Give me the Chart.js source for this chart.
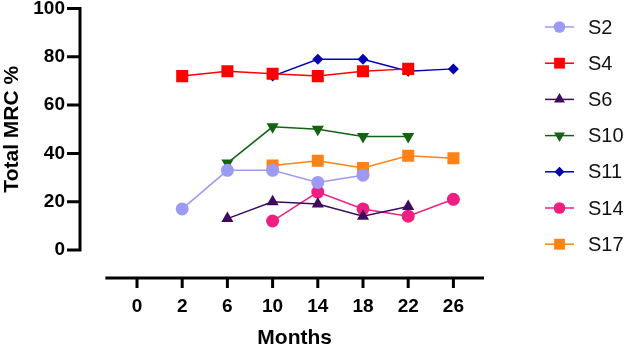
<!DOCTYPE html>
<html>
<head>
<meta charset="utf-8">
<script src="https://cdn.jsdelivr.net/npm/chart.js@4/dist/chart.umd.min.js"></script>
<style>
  html, body { margin: 0; padding: 0; background: #fff; }
  #wrap { width: 629px; height: 346px; }
</style>
</head>
<body>
<div id="wrap"><canvas id="myChart" width="629" height="346"></canvas></div>
<script>
// months on the x axis (evenly spaced categories)
const months = ['0', '2', '6', '10', '14', '18', '22', '26'];
const yTicks = [0, 20, 40, 60, 80, 100];

// Total MRC % per subject, null = no measurement
const s2  = [null, 17, 33, 33, 28, 31, null, null];
const s4  = [null, 72, 74, 73, 72, 74, 75, null];
const s6  = [null, null, 13, 20, 19, 14, 18, null];
const s10 = [null, null, 36, 51, 50, 47, 47, null];
const s11 = [null, null, null, 72, 79, 79, 74, 75];
const s14 = [null, null, null, 12, 24, 17, 14, 21];
const s17 = [null, null, null, 35, 37, 34, 39, 38];

const FONT = '"Liberation Sans", Arial, sans-serif';

function pts(arr) {
    return arr.map(function(v, i) { return v === null ? null : {x: i, y: v}; })
              .filter(function(p) { return p !== null; });
}

function series(label, arr, color, style, r, rot) {
    return {
        label: label,
        data: pts(arr),
        borderColor: color,
        backgroundColor: color,
        borderWidth: 1.5,
        pointStyle: style,
        pointRadius: r,
        pointRotation: rot || 0,
        pointBorderWidth: 0,
        pointBackgroundColor: color,
        pointBorderColor: color
    };
}

const datasets = [
    series('S2',  s2,  '#9b9bf3', 'circle',   6.5),
    series('S4',  s4,  '#ff0000', 'rect',     8.5),
    series('S6',  s6,  '#3e0b5e', 'triangle', 7),
    series('S10', s10, '#136313', 'triangle', 7, 180),
    series('S11', s11, '#0000b0', 'rectRot',  5.5),
    series('S14', s14, '#ee1f80', 'circle',   6.5),
    series('S17', s17, '#ff8216', 'rect',     8.5)
];

// axes drawn detached like the original, plus the legend on the right
const customAxes = {
    id: 'customAxes',
    afterDraw(chart) {
        const ctx = chart.ctx;
        const xs = chart.scales.x, ys = chart.scales.y;
        const left = chart.chartArea.left;
        const xStart = xs.getPixelForValue(-0.70);
        ctx.save();
        ctx.strokeStyle = '#000';
        ctx.lineWidth = 3;
        ctx.lineCap = 'butt';
        // y axis
        ctx.beginPath();
        ctx.moveTo(left, ys.getPixelForValue(100) - 1.5);
        ctx.lineTo(left, ys.getPixelForValue(0) + 1.5);
        yTicks.forEach(function(t) {
            const py = ys.getPixelForValue(t);
            ctx.moveTo(left - 13, py);
            ctx.lineTo(left, py);
        });
        ctx.stroke();
        // x axis
        const axY = ys.getPixelForValue(0) + 28;
        ctx.beginPath();
        ctx.moveTo(xStart, axY);
        ctx.lineTo(chart.chartArea.right, axY);
        months.forEach(function(m, i) {
            const px = xs.getPixelForValue(i);
            ctx.moveTo(px, axY);
            ctx.lineTo(px, axY + 10);
        });
        ctx.stroke();
        // x title
        ctx.fillStyle = '#000';
        ctx.font = 'bold 21px ' + FONT;
        ctx.textAlign = 'center';
        ctx.textBaseline = 'alphabetic';
        ctx.fillText('Months', (xStart + chart.chartArea.right) / 2, 344);

        // legend
        ctx.font = '20px ' + FONT;
        ctx.textAlign = 'left';
        ctx.textBaseline = 'middle';
        datasets.forEach(function(ds, i) {
            const cy = 27 + i * 36.2;
            ctx.strokeStyle = ds.borderColor;
            ctx.lineWidth = 1.5;
            ctx.beginPath();
            ctx.moveTo(545, cy);
            ctx.lineTo(574, cy);
            ctx.stroke();
            ctx.fillStyle = ds.backgroundColor;
            Chart.helpers.drawPoint(ctx, {
                pointStyle: ds.pointStyle,
                rotation: ds.pointRotation,
                radius: ds.pointRadius * 0.9,
                borderWidth: 0
            }, 559.5, cy);
            ctx.fillStyle = '#111';
            ctx.fillText(ds.label, 588, cy + 1);
        });
        ctx.restore();
    }
};

const config = {
    type: 'line',
    data: { datasets: datasets },
    options: {
        responsive: false,
        animation: false,
        layout: { padding: { top: 8, right: 145, left: 0, bottom: 0 } },
        plugins: { legend: { display: false }, tooltip: { enabled: false } },
        scales: {
            x: {
                type: 'linear',
                min: -1.261,
                max: 7.677,
                afterFit: function(s) {
                    s.height = 96;
                    s.paddingLeft = 0;
                    s.paddingRight = 0;
                },
                afterBuildTicks: function(s) {
                    s.ticks = months.map(function(m, i) { return {value: i}; });
                },
                grid: { display: false, drawTicks: false },
                border: { display: false },
                ticks: {
                    padding: 45,
                    autoSkip: false,
                    maxRotation: 0,
                    color: '#000',
                    font: { family: FONT, size: 19, weight: 'bold' },
                    callback: function(v) { return months[v]; }
                }
            },
            y: {
                min: 0,
                max: 100,
                afterFit: function(s) {
                    s.width = 80;
                    s.paddingTop = 0;
                    s.paddingBottom = 0;
                },
                afterBuildTicks: function(s) {
                    s.ticks = yTicks.map(function(t) { return {value: t}; });
                },
                grid: { display: false, drawTicks: false },
                border: { display: false },
                ticks: {
                    padding: 15,
                    color: '#000',
                    font: { family: FONT, size: 19, weight: 'bold' }
                },
                title: {
                    display: true,
                    text: 'Total MRC %',
                    color: '#000',
                    padding: 0,
                    font: { family: FONT, size: 21, weight: 'bold' }
                }
            }
        }
    },
    plugins: [customAxes]
};

const myChart = new Chart(document.getElementById('myChart'), config);
</script>
</body>
</html>
